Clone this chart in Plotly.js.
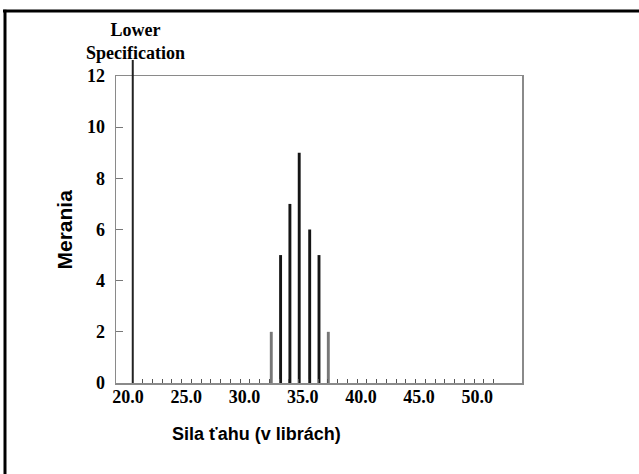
<!DOCTYPE html>
<html>
<head>
<meta charset="utf-8">
<script src="https://cdn.plot.ly/plotly-3.0.1.min.js"></script>
<style>
  html, body { margin: 0; padding: 0; background: #fff; }
  #chart { width: 639px; height: 474px; }
</style>
</head>
<body>
<div id="chart"></div>
<script>
// Data
const strengths = [32.3, 33.1, 33.9, 34.7, 35.6, 36.4, 37.2];   // pull strength (lb)
const counts    = [2, 5, 7, 9, 6, 5, 2];                          // number of measurements
const lowerSpec = 20.4;                                           // lower specification limit
const xTickLabels = ['20.0', '25.0', '30.0', '35.0', '40.0', '45.0', '50.0'];
const yTickLabels = ['0', '2', '4', '6', '8', '10', '12'];

// small axis marks: one per measurement cell to the right of the spec line
const cellWidth = 0.838;
const cellCount = 37;
const minorVals = [];
for (let k = 1; k <= cellCount; k++) minorVals.push(lowerSpec + k * cellWidth);

const serifFam = 'Liberation Serif, Times New Roman, serif';
const sansFam = 'Liberation Sans, Arial, sans-serif';
const tickFont = {family: serifFam, size: 18, color: '#000', weight: 'bold'};

const trace = {
  type: 'bar',
  x: strengths,
  y: counts,
  width: 0.25,
  marker: {
    color: counts.map(c => c <= 2 ? '#777' : '#151515'),
    line: {width: 0}
  },
  hoverinfo: 'x+y'
};

const layout = {
  width: 639, height: 474,
  margin: {l: 116, r: 117, t: 76, b: 91},
  paper_bgcolor: '#fff', plot_bgcolor: '#fff',
  showlegend: false,
  xaxis: {
    range: [18.96, 53.84],
    tickmode: 'array',
    tickvals: xTickLabels.map(Number),
    ticktext: xTickLabels,
    ticks: '',
    ticklabelstandoff: -3,
    showgrid: false, zeroline: false,
    showline: true, linecolor: '#8a8a8a', linewidth: 1.5, mirror: true,
    tickfont: tickFont,
    minor: {tickmode: 'array', tickvals: minorVals, ticks: 'inside', ticklen: 4, tickwidth: 1, tickcolor: '#555', showgrid: false}
  },
  yaxis: {
    range: [0, 12],
    tickmode: 'array',
    tickvals: yTickLabels.map(Number),
    ticktext: yTickLabels,
    ticks: 'inside', ticklen: 7, tickwidth: 1, tickcolor: '#777',
    ticklabelstandoff: 6,
    showgrid: false, zeroline: false,
    showline: true, linecolor: '#8a8a8a', linewidth: 1.5, mirror: true,
    tickfont: tickFont
  },
  shapes: [
    // lower specification line
    {type: 'line', xref: 'x', yref: 'paper', x0: lowerSpec, x1: lowerSpec, y0: 0, y1: 1.052,
     line: {color: '#222', width: 2}, layer: 'above'},
    // outer frame (top and left edges)
    {type: 'line', xref: 'paper', yref: 'paper', x0: -0.2783, x1: 1.29, y0: 1.2117, y1: 1.2117,
     line: {color: '#000', width: 3}},
    {type: 'line', xref: 'paper', yref: 'paper', x0: -0.2734, x1: -0.2734, y0: 1.216, y1: -0.30,
     line: {color: '#000', width: 3}}
  ],
  annotations: [
    {text: 'Lower<br>Specification', xref: 'paper', yref: 'paper', x: 0.0468, y: 1.1885,
     xanchor: 'center', yanchor: 'top', showarrow: false, align: 'center',
     font: {family: serifFam, size: 18, color: '#000', weight: 'bold'}},
    {text: 'Sila ťahu (v librách)', xref: 'paper', yref: 'paper', x: 0.345, y: -0.166,
     xanchor: 'center', yanchor: 'middle', showarrow: false,
     font: {family: sansFam, size: 18, color: '#000', weight: 'bold'}},
    {text: 'Merania', xref: 'paper', yref: 'paper', x: -0.128, y: 0.5, textangle: -90,
     xanchor: 'center', yanchor: 'middle', showarrow: false,
     font: {family: sansFam, size: 21, color: '#000', weight: 'bold'}}
  ]
};

Plotly.newPlot('chart', [trace], layout, {displayModeBar: false, staticPlot: true});
</script>
</body>
</html>
